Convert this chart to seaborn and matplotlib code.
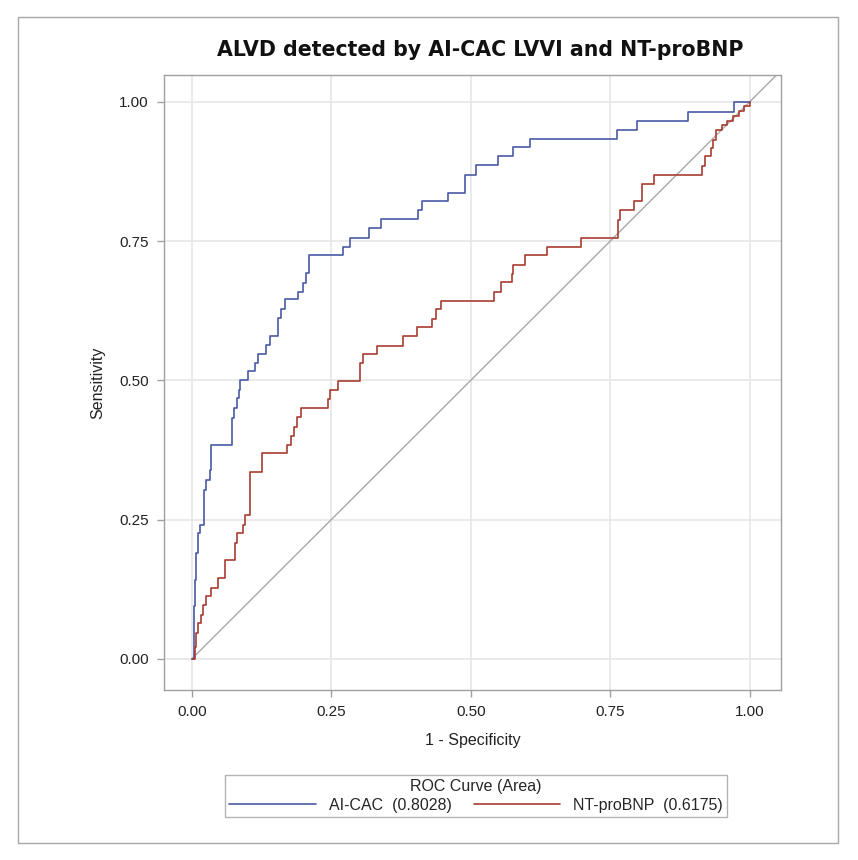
import matplotlib
matplotlib.use("Agg")
import matplotlib.pyplot as plt
import seaborn as sns
import pandas as pd
from matplotlib.lines import Line2D
from matplotlib.patches import Rectangle

# ROC step vertices (1 - specificity, sensitivity)
aicac_fpr = [0, 0.004, 0.005, 0.008, 0.011, 0.015, 0.022, 0.026, 0.032, 0.035,
             0.071, 0.076, 0.080, 0.084, 0.087, 0.101, 0.114, 0.118, 0.133, 0.140,
             0.155, 0.159, 0.167, 0.191, 0.200, 0.205, 0.210, 0.270, 0.284, 0.318,
             0.339, 0.406, 0.412, 0.459, 0.490, 0.510, 0.549, 0.575, 0.606, 0.762,
             0.797, 0.890, 0.971, 1.0]
aicac_tpr = [0, 0.094, 0.142, 0.190, 0.226, 0.241, 0.303, 0.321, 0.339, 0.384,
             0.432, 0.450, 0.468, 0.483, 0.500, 0.516, 0.531, 0.548, 0.564, 0.580,
             0.612, 0.628, 0.645, 0.659, 0.674, 0.692, 0.725, 0.740, 0.756, 0.773,
             0.789, 0.806, 0.821, 0.837, 0.869, 0.886, 0.902, 0.918, 0.934, 0.950,
             0.966, 0.981, 1.0, 1.0]

ntpro_fpr = [0, 0.005, 0.008, 0.011, 0.016, 0.020, 0.026, 0.035, 0.047, 0.059,
             0.077, 0.080, 0.092, 0.095, 0.104, 0.105, 0.126, 0.171, 0.177, 0.183,
             0.188, 0.195, 0.244, 0.248, 0.262, 0.302, 0.306, 0.332, 0.379, 0.403,
             0.431, 0.438, 0.446, 0.541, 0.554, 0.574, 0.576, 0.597, 0.636, 0.697,
             0.764, 0.768, 0.792, 0.806, 0.828, 0.915, 0.919, 0.931, 0.934, 0.940,
             0.950, 0.960, 0.970, 0.980, 0.990, 1.0]
ntpro_tpr = [0, 0.022, 0.046, 0.064, 0.079, 0.097, 0.112, 0.127, 0.145, 0.178,
             0.208, 0.226, 0.241, 0.259, 0.303, 0.336, 0.370, 0.384, 0.400, 0.417,
             0.434, 0.450, 0.466, 0.483, 0.498, 0.531, 0.547, 0.562, 0.579, 0.595,
             0.610, 0.628, 0.643, 0.659, 0.676, 0.691, 0.707, 0.725, 0.740, 0.756,
             0.788, 0.805, 0.821, 0.853, 0.869, 0.885, 0.902, 0.917, 0.932, 0.950,
             0.958, 0.966, 0.975, 0.983, 0.992, 1.0]

series_names = ["AI-CAC", "NT-proBNP"]
series_auc = [0.8028, 0.6175]
ticks = [0.0, 0.25, 0.5, 0.75, 1.0]
tick_labels = ["0.00", "0.25", "0.50", "0.75", "1.00"]

sns.set_theme(style="whitegrid")
plt.rcParams["font.family"] = ["Liberation Sans", "DejaVu Sans"]

blue = "#4a5aa6"
red = "#a83c30"

fig = plt.figure(figsize=(8.58, 8.60), dpi=100)
ax = fig.add_axes([164 / 858, 1 - 690 / 860, (781 - 164) / 858, (690 - 75) / 860])

df_a = pd.DataFrame({"fpr": aicac_fpr, "tpr": aicac_tpr})
df_n = pd.DataFrame({"fpr": ntpro_fpr, "tpr": ntpro_tpr})

ax.plot([0, 1.06], [0, 1.06], color="#a8a8a8", lw=1.0, zorder=1)
sns.lineplot(data=df_a, x="fpr", y="tpr", sort=False, estimator=None,
             drawstyle="steps-post", color=blue, lw=1.2, ax=ax, zorder=3)
sns.lineplot(data=df_n, x="fpr", y="tpr", sort=False, estimator=None,
             drawstyle="steps-post", color=red, lw=1.2, ax=ax, zorder=3)

ax.set_xlim(-0.05, 1.056)
ax.set_ylim(-0.056, 1.048)
ax.set_xticks(ticks)
ax.set_xticklabels(tick_labels)
ax.set_yticks(ticks)
ax.set_yticklabels(tick_labels)
ax.grid(True, color="#e6e6e6", lw=1.2)
ax.set_facecolor("white")
for s in ax.spines.values():
    s.set_color("#a0a0a0")
    s.set_linewidth(1.0)
ax.tick_params(axis="both", which="both", direction="out", length=5, width=1,
               color="#a0a0a0", labelsize=11, labelcolor="#222222", pad=6,
               bottom=True, left=True)
ax.set_xlabel("1 - Specificity", fontsize=11.5, color="#222222", labelpad=10)
ax.set_ylabel("Sensitivity", fontsize=11.5, color="#222222", labelpad=10)

fig.text(480 / 858, 1 - 50 / 860, "ALVD detected by AI-CAC LVVI and NT-proBNP",
         ha="center", va="center", fontsize=14.8, fontweight="bold",
         family=["DejaVu Sans"], color="#111111")

handles = [Line2D([0], [0], color=blue, lw=1.2), Line2D([0], [0], color=red, lw=1.2)]
labels = [f"{n}  ({a:.4f})" for n, a in zip(series_names, series_auc)]
leg = fig.legend(handles, labels, title="ROC Curve (Area)", ncol=2,
                 loc="center", bbox_to_anchor=(476 / 858, 1 - 796 / 860),
                 fontsize=11.5, title_fontsize=11.5, frameon=True, fancybox=False,
                 handlelength=5.4, columnspacing=1.4, borderpad=0.3,
                 handletextpad=0.8, labelspacing=0.2)
leg.get_frame().set_edgecolor("#a0a0a0")
leg.get_frame().set_linewidth(1.0)

fig.patches.append(Rectangle((18 / 858, 1 - 843 / 860), (838 - 18) / 858, (843 - 17) / 860,
                             transform=fig.transFigure, fill=False,
                             edgecolor="#a8a8a8", lw=1.0))

fig.savefig("out.png", dpi=100, facecolor="white")
